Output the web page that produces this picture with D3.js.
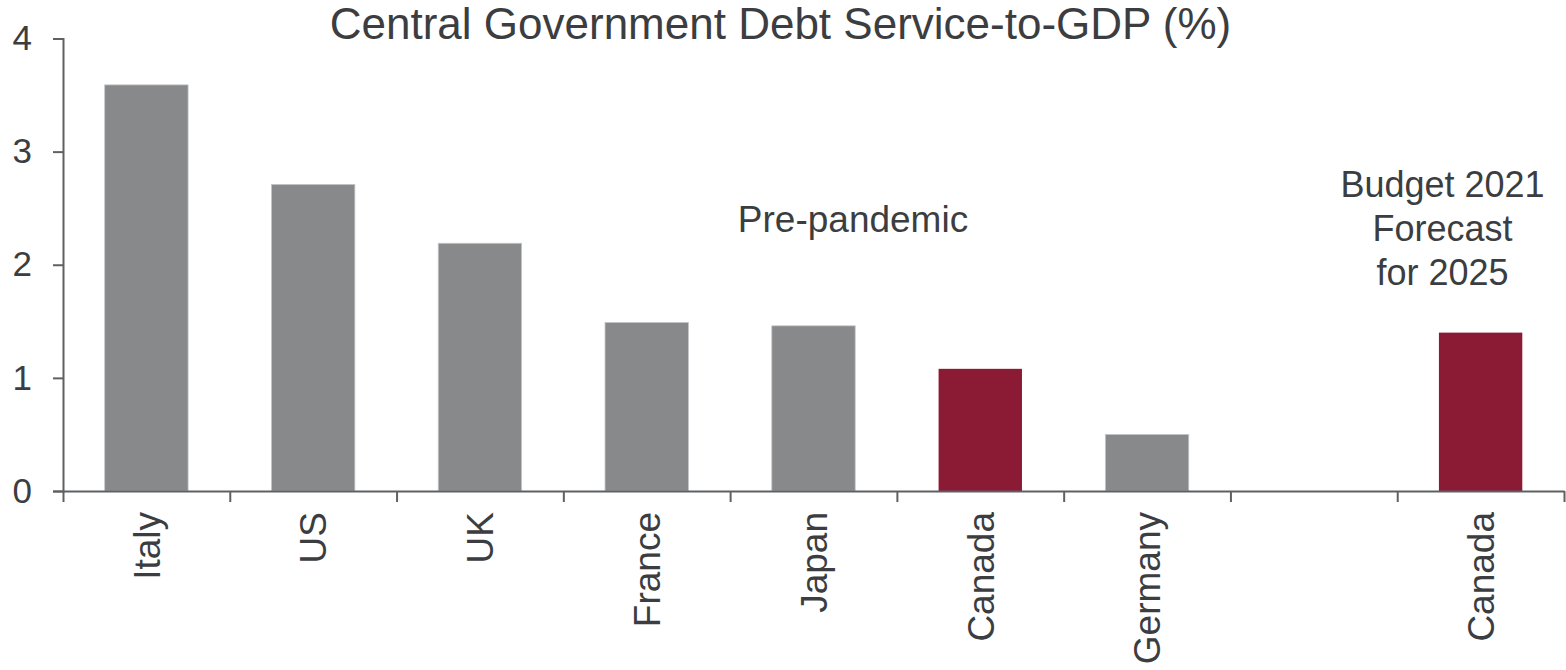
<!DOCTYPE html>
<html>
<head>
<meta charset="utf-8">
<script src="https://cdn.jsdelivr.net/npm/d3@7"></script>
<style>
  html, body { margin: 0; padding: 0; background: #ffffff; }
  svg { display: block; font-family: "Liberation Sans", Arial, sans-serif; }
</style>
</head>
<body>
<svg id="chart" width="1566" height="670"></svg>
<script>
// Central government debt service as a share of GDP
const categories = ["Italy", "US", "UK", "France", "Japan", "Canada", "Germany", "", "Canada"];
const values     = [3.59, 2.71, 2.19, 1.49, 1.46, 1.08, 0.50, null, 1.40];
const yTicks     = [0, 1, 2, 3, 4];
const titleText  = "Central Government Debt Service-to-GDP (%)";
const noteLeft   = "Pre-pandemic";
const noteRight  = ["Budget 2021", "Forecast", "for 2025"];

const svg = d3.select("#chart");
const textColor = "#3c3d40";
const axisColor = "#5f6062";
const greyBar = "#88898b";
const redBar = "#8b1a34";

const plotLeft = 63, plotRight = 1564, plotTop = 38.5, plotBottom = 491;
const idx = d3.range(categories.length);

const x = d3.scaleBand()
  .domain(idx)
  .range([plotLeft, plotRight])
  .paddingInner(0.5)
  .paddingOuter(0.25);

const xEdges = d3.scaleLinear()
  .domain([0, categories.length])
  .range([plotLeft, plotRight]);

const y = d3.scaleLinear()
  .domain([0, 4])
  .range([plotBottom, plotTop]);

// Bars
svg.append("g")
  .selectAll("rect")
  .data(idx.filter(i => values[i] != null))
  .join("rect")
  .attr("x", i => x(i))
  .attr("width", x.bandwidth())
  .attr("y", i => y(values[i]))
  .attr("height", i => y(0) - y(values[i]))
  .attr("fill", i => categories[i] === "Canada" ? redBar : greyBar)
  .attr("stroke", i => categories[i] === "Canada" ? "none" : "#c4c5c7")
  .attr("stroke-width", 0.8);

// Y axis
const yAxis = svg.append("g")
  .attr("transform", `translate(${plotLeft},0)`)
  .call(d3.axisLeft(y).tickValues(yTicks).tickFormat(d3.format("d")).tickSize(10).tickSizeOuter(10).tickPadding(21));
yAxis.select(".domain").attr("stroke", axisColor).attr("stroke-width", 2);
yAxis.selectAll(".tick line").attr("stroke", axisColor).attr("stroke-width", 2);
yAxis.selectAll(".tick text")
  .attr("fill", textColor)
  .attr("font-size", 35)
  .attr("font-family", "Liberation Sans, Arial, sans-serif");

// X axis: boundary ticks between categories
const xAxis = svg.append("g")
  .attr("transform", `translate(0,${plotBottom})`)
  .call(d3.axisBottom(xEdges).tickValues(d3.range(categories.length + 1)).tickFormat("").tickSize(11).tickSizeOuter(0));
xAxis.select(".domain").attr("stroke", axisColor).attr("stroke-width", 2);
xAxis.selectAll(".tick line").attr("stroke", axisColor).attr("stroke-width", 2);

// Category labels, rotated
svg.append("g")
  .selectAll("text")
  .data(idx.filter(i => categories[i] !== ""))
  .join("text")
  .attr("transform", i => `translate(${x(i) + x.bandwidth() / 2},512) rotate(-90)`)
  .attr("text-anchor", "end")
  .attr("dy", "0.36em")
  .attr("font-size", 37)
  .attr("fill", textColor)
  .text(i => categories[i]);

// Title
svg.append("text")
  .attr("x", 780.5)
  .attr("y", 39)
  .attr("text-anchor", "middle")
  .attr("font-size", 44)
  .attr("fill", textColor)
  .text(titleText);

// Annotations
svg.append("text")
  .attr("x", 853)
  .attr("y", 232)
  .attr("text-anchor", "middle")
  .attr("font-size", 37)
  .attr("fill", textColor)
  .text(noteLeft);

svg.append("g")
  .selectAll("text")
  .data(noteRight)
  .join("text")
  .attr("x", 1442.5)
  .attr("y", (d, i) => 197 + i * 44)
  .attr("text-anchor", "middle")
  .attr("font-size", 36)
  .attr("fill", textColor)
  .text(d => d);
</script>
</body>
</html>
